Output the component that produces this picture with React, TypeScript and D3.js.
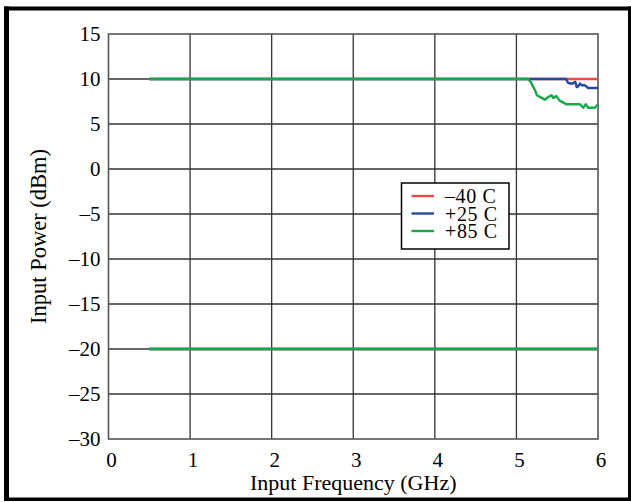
import React from "react";
import * as d3 from "d3";

const xTicks = [0, 1, 2, 3, 4, 5, 6];
const yTicks = [15, 10, 5, 0, -5, -10, -15, -20, -25, -30];

const seriesNames = ["\u201340 C", "+25 C", "+85 C"];
const seriesColors = ["#f04848", "#2648a0", "#14aa4a"];

// upper traces (freq GHz, dBm)
const redUpper: [number, number][] = [[0.5, 10], [6, 10]];
const blueUpper: [number, number][] = [
  [0.5, 10], [5.61, 10], [5.63, 9.6], [5.66, 9.5], [5.69, 9.5], [5.72, 9.7],
  [5.74, 9.1], [5.76, 9.2], [5.78, 9.5], [5.8, 9.3], [5.84, 9.3], [5.88, 9.0], [6, 9.0],
];
const greenUpper: [number, number][] = [
  [0.5, 10], [5.145, 10], [5.18, 9.6], [5.23, 8.7], [5.25, 8.2], [5.31, 7.9],
  [5.35, 7.7], [5.39, 8.0], [5.43, 8.2], [5.45, 7.9], [5.49, 8.1], [5.53, 7.6],
  [5.57, 7.4], [5.61, 7.2], [5.7, 7.2], [5.78, 7.2], [5.82, 6.8], [5.85, 7.2],
  [5.88, 6.8], [5.96, 6.8], [6, 7.2],
];
// lower traces
const redLower: [number, number][] = [[0.5, -20], [6, -20]];
const blueLower: [number, number][] = [[0.5, -20], [6, -20]];
const greenLower: [number, number][] = [[0.5, -20], [6, -20]];

const traces = [
  { data: redUpper, s: 0 }, { data: redLower, s: 0 },
  { data: blueUpper, s: 1 }, { data: blueLower, s: 1 },
  { data: greenUpper, s: 2 }, { data: greenLower, s: 2 },
];

const W = 631, H = 502;
const left = 108.5, right = 598, top = 34, bottom = 439;
const FONT = "'Liberation Serif', 'Times New Roman', serif";

export default function App() {
  const x = d3.scaleLinear().domain([0, 6]).range([left, right]);
  const y = d3.scaleLinear().domain([-30, 15]).range([bottom, top]);
  const line = d3.line<[number, number]>().x(d => x(d[0])).y(d => y(d[1]));
  const fmt = (v: number) => (v < 0 ? "\u2013" + Math.abs(v) : String(v));

  return (
    <svg width={W} height={H} style={{ position: "absolute", left: 0, top: 0, background: "#fff" }}
      fontFamily={FONT}>
      <rect x={0} y={0} width={W} height={H} fill="#fff" />
      {/* outer frame */}
      <rect x={4} y={6.5} width={627} height={4} fill="#000" />
      <rect x={4} y={6.5} width={5} height={494.5} fill="#000" />
      <rect x={628} y={6.5} width={3} height={494.5} fill="#000" />
      <rect x={4} y={497.5} width={627} height={3.5} fill="#000" />

      {/* grid */}
      {xTicks.slice(1, -1).map(t => (
        <line key={"gx" + t} x1={x(t)} x2={x(t)} y1={top} y2={bottom} stroke="#333" strokeWidth={1.3} />
      ))}
      {yTicks.slice(1, -1).map(t => (
        <line key={"gy" + t} x1={left} x2={right} y1={y(t)} y2={y(t)} stroke="#333" strokeWidth={1.3} />
      ))}
      <rect x={left} y={top} width={right - left} height={bottom - top} fill="none" stroke="#555" strokeWidth={1.6} />

      {/* traces */}
      {traces.map((t, i) => (
        <path key={i} d={line(t.data) || ""} fill="none" stroke={seriesColors[t.s]} strokeWidth={2.4}
          strokeLinejoin="round" />
      ))}

      {/* y tick labels */}
      {yTicks.map(t => (
        <text key={"ty" + t} x={100.5} y={y(t)} dy="0.35em" textAnchor="end" fontSize={21} fill="#000">{fmt(t)}</text>
      ))}
      {/* x tick labels */}
      {xTicks.map(t => (
        <text key={"tx" + t} x={x(t) + 3} y={467} textAnchor="middle" fontSize={21} fill="#000">{t}</text>
      ))}
      <text x={(left + right) / 2} y={490} textAnchor="middle" fontSize={22} fill="#000">Input Frequency (GHz)</text>
      <text transform={`translate(46,${(top + bottom) / 2}) rotate(-90)`} textAnchor="middle" fontSize={22.5} fill="#000">
        Input Power (dBm)
      </text>

      {/* legend */}
      <rect x={401.5} y={183} width={107.5} height={66} fill="#fff" stroke="#000" strokeWidth={1.5} />
      {seriesNames.map((n, i) => (
        <g key={n}>
          <line x1={411.5} x2={434} y1={196 + i * 17.5} y2={196 + i * 17.5} stroke={seriesColors[i]} strokeWidth={2.4} />
          <text x={445} y={196 + i * 17.5} dy="0.35em" fontSize={20} letterSpacing={0.6} fill="#000">{n}</text>
        </g>
      ))}
    </svg>
  );
}
